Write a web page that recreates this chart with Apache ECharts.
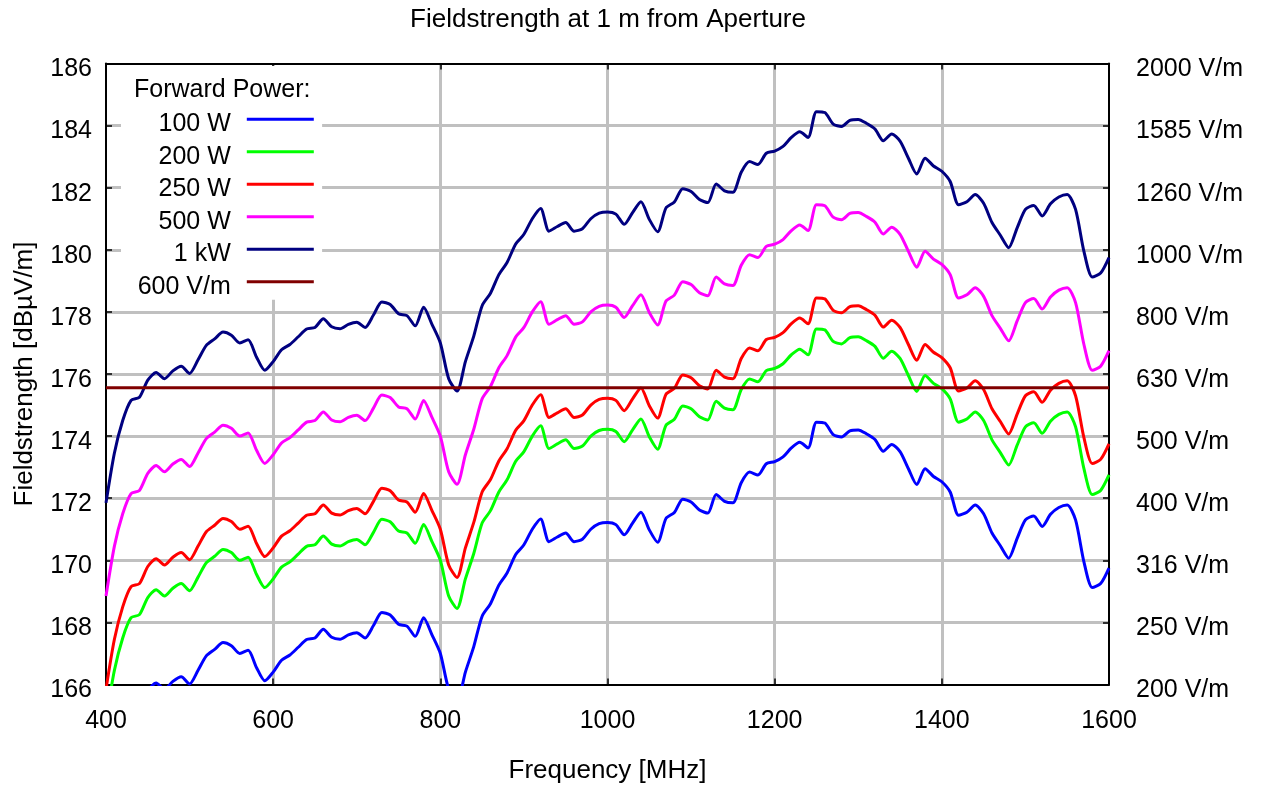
<!DOCTYPE html>
<html>
<head>
<meta charset="utf-8">
<script src="https://cdn.jsdelivr.net/npm/echarts@6/dist/echarts.min.js"></script>
<style>
  html, body { margin: 0; padding: 0; background: #fff; }
  #chart { width: 1262px; height: 789px; }
</style>
</head>
<body>
<div id="chart"></div>
<script>
// frequency in MHz
const freqs = [
  400, 410, 420, 430, 440, 450, 460, 470, 480, 490,
  500, 510, 520, 530, 540, 550, 560, 570, 580, 590,
  600, 610, 620, 630, 640, 650, 660, 670, 680, 690,
  700, 710, 720, 730, 740, 750, 760, 770, 780, 790,
  800, 810, 820, 830, 840, 850, 860, 870, 880, 890,
  900, 910, 920, 930, 940, 950, 960, 970, 980, 990,
  1000, 1010, 1020, 1030, 1040, 1050, 1060, 1070, 1080, 1090,
  1100, 1110, 1120, 1130, 1140, 1150, 1160, 1170, 1180, 1190,
  1200, 1210, 1220, 1230, 1240, 1250, 1260, 1270, 1280, 1290,
  1300, 1310, 1320, 1330, 1340, 1350, 1360, 1370, 1380, 1390,
  1400, 1410, 1420, 1430, 1440, 1450, 1460, 1470, 1480, 1490,
  1500, 1510, 1520, 1530, 1540, 1550, 1560, 1570, 1580, 1590,
  1600
];

// fieldstrength in dBuV/m
const w100 = [
  161.85, 163.45, 164.5, 165.15, 165.25, 165.8, 166.05, 165.85, 166.1, 166.25,
  166.02, 166.45, 166.92, 167.13, 167.35, 167.25, 167.0, 167.1, 166.55, 166.12,
  166.4, 166.78, 166.95, 167.2, 167.45, 167.5, 167.78, 167.52, 167.46, 167.6,
  167.67, 167.5, 167.9, 168.32, 168.24, 167.94, 167.88, 167.55, 168.15, 167.6,
  167.0, 165.85, 165.45, 166.4, 167.22, 168.2, 168.6, 169.2, 169.6, 170.18,
  170.5, 171.0, 171.33, 170.6, 170.75, 170.88, 170.6, 170.68, 171.0, 171.18,
  171.22, 171.15, 170.82, 171.2, 171.55, 170.98, 170.58, 171.35, 171.54, 171.97,
  171.88, 171.62, 171.52, 172.12, 171.9, 171.85, 172.5, 172.84, 172.75, 173.11,
  173.18, 173.33, 173.62, 173.8, 173.62, 174.45, 174.42, 174.05, 173.97, 174.17,
  174.2, 174.07, 173.89, 173.51, 173.73, 173.5, 172.95, 172.44, 172.95, 172.7,
  172.53, 172.2, 171.45, 171.55, 171.78, 171.5, 170.88, 170.47, 170.07, 170.7,
  171.3, 171.43, 171.09, 171.48, 171.7, 171.78, 171.3, 169.95, 169.12, 169.25,
  169.75
];
const w200 = [
  164.85, 166.45, 167.5, 168.15, 168.25, 168.8, 169.05, 168.85, 169.1, 169.25,
  169.02, 169.45, 169.92, 170.13, 170.35, 170.25, 170.0, 170.1, 169.55, 169.12,
  169.4, 169.78, 169.95, 170.2, 170.45, 170.5, 170.78, 170.52, 170.46, 170.6,
  170.67, 170.5, 170.9, 171.32, 171.24, 170.94, 170.88, 170.55, 171.15, 170.6,
  170.0, 168.85, 168.45, 169.4, 170.22, 171.2, 171.6, 172.2, 172.6, 173.18,
  173.5, 174.0, 174.33, 173.6, 173.75, 173.88, 173.6, 173.68, 174.0, 174.18,
  174.22, 174.15, 173.82, 174.2, 174.55, 173.98, 173.58, 174.35, 174.54, 174.97,
  174.88, 174.62, 174.52, 175.12, 174.9, 174.85, 175.5, 175.84, 175.75, 176.11,
  176.18, 176.33, 176.62, 176.8, 176.62, 177.45, 177.42, 177.05, 176.97, 177.17,
  177.2, 177.07, 176.89, 176.51, 176.73, 176.5, 175.95, 175.44, 175.95, 175.7,
  175.53, 175.2, 174.45, 174.55, 174.78, 174.5, 173.88, 173.47, 173.07, 173.7,
  174.3, 174.43, 174.09, 174.48, 174.7, 174.78, 174.3, 172.95, 172.12, 172.25,
  172.75
];
const w250 = [
  165.85, 167.45, 168.5, 169.15, 169.25, 169.8, 170.05, 169.85, 170.1, 170.25,
  170.02, 170.45, 170.92, 171.13, 171.35, 171.25, 171.0, 171.1, 170.55, 170.12,
  170.4, 170.78, 170.95, 171.2, 171.45, 171.5, 171.78, 171.52, 171.46, 171.6,
  171.67, 171.5, 171.9, 172.32, 172.24, 171.94, 171.88, 171.55, 172.15, 171.6,
  171.0, 169.85, 169.45, 170.4, 171.22, 172.2, 172.6, 173.2, 173.6, 174.18,
  174.5, 175.0, 175.33, 174.6, 174.75, 174.88, 174.6, 174.68, 175.0, 175.18,
  175.22, 175.15, 174.82, 175.2, 175.55, 174.98, 174.58, 175.35, 175.54, 175.97,
  175.88, 175.62, 175.52, 176.12, 175.9, 175.85, 176.5, 176.84, 176.75, 177.11,
  177.18, 177.33, 177.62, 177.8, 177.62, 178.45, 178.42, 178.05, 177.97, 178.17,
  178.2, 178.07, 177.89, 177.51, 177.73, 177.5, 176.95, 176.44, 176.95, 176.7,
  176.53, 176.2, 175.45, 175.55, 175.78, 175.5, 174.88, 174.47, 174.07, 174.7,
  175.3, 175.43, 175.09, 175.48, 175.7, 175.78, 175.3, 173.95, 173.12, 173.25,
  173.75
];
const w500 = [
  168.85, 170.45, 171.5, 172.15, 172.25, 172.8, 173.05, 172.85, 173.1, 173.25,
  173.02, 173.45, 173.92, 174.13, 174.35, 174.25, 174.0, 174.1, 173.55, 173.12,
  173.4, 173.78, 173.95, 174.2, 174.45, 174.5, 174.78, 174.52, 174.46, 174.6,
  174.67, 174.5, 174.9, 175.32, 175.24, 174.94, 174.88, 174.55, 175.15, 174.6,
  174.0, 172.85, 172.45, 173.4, 174.22, 175.2, 175.6, 176.2, 176.6, 177.18,
  177.5, 178.0, 178.33, 177.6, 177.75, 177.88, 177.6, 177.68, 178.0, 178.18,
  178.22, 178.15, 177.82, 178.2, 178.55, 177.98, 177.58, 178.35, 178.54, 178.97,
  178.88, 178.62, 178.52, 179.12, 178.9, 178.85, 179.5, 179.84, 179.75, 180.11,
  180.18, 180.33, 180.62, 180.8, 180.62, 181.45, 181.42, 181.05, 180.97, 181.17,
  181.2, 181.07, 180.89, 180.51, 180.73, 180.5, 179.95, 179.44, 179.95, 179.7,
  179.53, 179.2, 178.45, 178.55, 178.78, 178.5, 177.88, 177.47, 177.07, 177.7,
  178.3, 178.43, 178.09, 178.48, 178.7, 178.78, 178.3, 176.95, 176.12, 176.25,
  176.75
];
const kw1 = [
  171.85, 173.45, 174.5, 175.15, 175.25, 175.8, 176.05, 175.85, 176.1, 176.25,
  176.02, 176.45, 176.92, 177.13, 177.35, 177.25, 177.0, 177.1, 176.55, 176.12,
  176.4, 176.78, 176.95, 177.2, 177.45, 177.5, 177.78, 177.52, 177.46, 177.6,
  177.67, 177.5, 177.9, 178.32, 178.24, 177.94, 177.88, 177.55, 178.15, 177.6,
  177.0, 175.85, 175.45, 176.4, 177.22, 178.2, 178.6, 179.2, 179.6, 180.18,
  180.5, 181.0, 181.33, 180.6, 180.75, 180.88, 180.6, 180.68, 181.0, 181.18,
  181.22, 181.15, 180.82, 181.2, 181.55, 180.98, 180.58, 181.35, 181.54, 181.97,
  181.88, 181.62, 181.52, 182.12, 181.9, 181.85, 182.5, 182.84, 182.75, 183.11,
  183.18, 183.33, 183.62, 183.8, 183.62, 184.45, 184.42, 184.05, 183.97, 184.17,
  184.2, 184.07, 183.89, 183.51, 183.73, 183.5, 182.95, 182.44, 182.95, 182.7,
  182.53, 182.2, 181.45, 181.55, 181.78, 181.5, 180.88, 180.47, 180.07, 180.7,
  181.3, 181.43, 181.09, 181.48, 181.7, 181.78, 181.3, 179.95, 179.12, 179.25,
  179.75
];
const limit600 = 175.56; // 600 V/m

const rightLabels = [
  "200 V/m", "250 V/m", "316 V/m", "400 V/m", "500 V/m", "630 V/m",
  "800 V/m", "1000 V/m", "1260 V/m", "1585 V/m", "2000 V/m"
];

const FONT = "Liberation Sans, Arial, sans-serif";

function pairs(values) {
  return freqs.map((f, i) => [f, values[i]]);
}

function lineSeries(name, color, data) {
  return {
    name: name,
    type: "line",
    data: data,
    showSymbol: false,
    smooth: 0.25,
    lineStyle: { color: color, width: 3 },
    itemStyle: { color: color },
    emphasis: { disabled: true },
  };
}

const tickStyle = { show: true, inside: true, length: 6, lineStyle: { color: "#000", width: 1.5 } };
const lineAxis = { show: true, lineStyle: { color: "#000", width: 2 } };
const gridLine = { show: true, showMinLine: false, showMaxLine: false, lineStyle: { color: "#c0c0c0", width: 3 } };

const option = {
  animation: false,
  backgroundColor: "#fff",
  title: {
    text: "Fieldstrength at 1 m from Aperture",
    left: 608,
    top: 7,
    padding: 0,
    textAlign: "center",
    textStyle: { fontFamily: FONT, fontSize: 26, fontWeight: "normal", color: "#000" },
  },
  grid: { left: 106, right: 153, top: 63.5, bottom: 104.5, outerBoundsMode: "none" },
  legend: {
    orient: "vertical",
    left: 121,
    top: 66,
    align: "right",
    // 3px line in the top of a 13px box, so the label sits a little lower than the line
    icon: "path://M0,0 L67,0 L67,3 L0,3 Z M0,13 L0,13",
    itemWidth: 67,
    itemHeight: 13,
    itemGap: 7.5,
    padding: [45.8, 8.3, 0.5, 16.7],
    backgroundColor: "#fff",
    selectedMode: false,
    textStyle: { fontFamily: FONT, fontSize: 25, color: "#000", lineHeight: 25, padding: [0, 11, 0, 0] },
    data: ["100 W", "200 W", "250 W", "500 W", "1 kW", "600 V/m"],
  },
  graphic: [
    {
      type: "text",
      left: 134,
      top: 78,
      z: 10,
      style: { text: "Forward Power:", font: "25px " + FONT, fill: "#000" },
    },
  ],
  xAxis: [
    {
      type: "value",
      min: 400,
      max: 1600,
      interval: 200,
      name: "Frequency [MHz]",
      nameLocation: "middle",
      nameGap: 73.5,
      nameTextStyle: { fontFamily: FONT, fontSize: 26, color: "#000" },
      axisLine: lineAxis,
      axisTick: tickStyle,
      axisLabel: { fontFamily: FONT, fontSize: 25, color: "#000", margin: 24, formatter: (v) => String(v) },
      splitLine: gridLine,
    },
    {
      type: "value",
      position: "top",
      min: 400,
      max: 1600,
      interval: 200,
      axisLine: lineAxis,
      axisTick: tickStyle,
      axisLabel: { show: false },
      splitLine: { show: false },
    },
  ],
  yAxis: [
    {
      type: "value",
      min: 166,
      max: 186,
      interval: 2,
      name: "Fieldstrength [dBµV/m]",
      nameLocation: "middle",
      nameGap: 68,
      nameTextStyle: { fontFamily: FONT, fontSize: 26, color: "#000" },
      axisLine: lineAxis,
      axisTick: tickStyle,
      axisLabel: { fontFamily: FONT, fontSize: 25, color: "#000", margin: 14, verticalAlign: "top", lineHeight: 12 },
      splitLine: gridLine,
    },
    {
      type: "value",
      position: "right",
      min: 166,
      max: 186,
      interval: 2,
      axisLine: lineAxis,
      axisTick: tickStyle,
      axisLabel: {
        fontFamily: FONT,
        fontSize: 25,
        color: "#000",
        margin: 27,
        verticalAlign: "top",
        lineHeight: 12,
        formatter: (v) => rightLabels[Math.round((v - 166) / 2)],
      },
      splitLine: { show: false },
    },
  ],
  series: [
    lineSeries("100 W", "#0000ff", pairs(w100)),
    lineSeries("200 W", "#00ff00", pairs(w200)),
    lineSeries("250 W", "#ff0000", pairs(w250)),
    lineSeries("500 W", "#ff00ff", pairs(w500)),
    lineSeries("1 kW", "#000080", pairs(kw1)),
    Object.assign(
      lineSeries("600 V/m", "#800000", [[freqs[0], limit600], [freqs[freqs.length - 1], limit600]]),
      { smooth: false }
    ),
  ],
};

const chart = echarts.init(document.getElementById("chart"));
chart.setOption(option);
</script>
</body>
</html>
